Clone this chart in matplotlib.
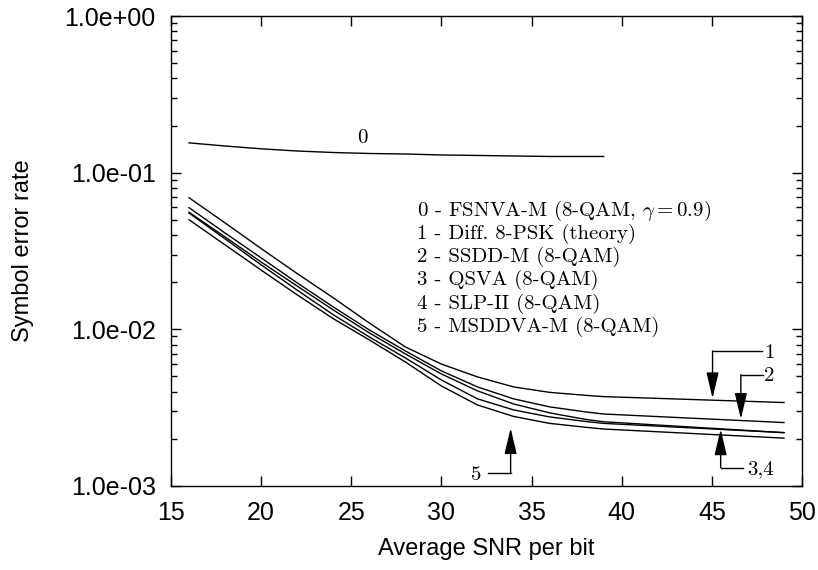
import numpy as np
import matplotlib
matplotlib.use("Agg")
import matplotlib.pyplot as plt
from matplotlib.ticker import FuncFormatter, LogLocator, NullFormatter, MultipleLocator

plt.rcParams['font.family'] = ['Liberation Sans', 'DejaVu Sans']
plt.rcParams['mathtext.fontset'] = 'cm'

# SNR grid (dB) for the curves
snr = [16, 18, 20, 22, 24, 26, 28, 30, 32, 34, 36, 38, 39, 49]
snr0 = [16, 18, 20, 22, 24, 26, 28, 30, 32, 34, 36, 38, 39]

# symbol error rates
ser0 = [0.155, 0.148, 0.142, 0.1375, 0.1345, 0.1326, 0.1316, 0.1297, 0.1288, 0.1278, 0.1269, 0.1269, 0.1269]
ser1 = [0.0692, 0.0478, 0.0328, 0.0227, 0.0159, 0.01098, 0.00772, 0.00600, 0.00497, 0.00429, 0.00396, 0.00379, 0.00372, 0.00341]
ser2 = [0.0598, 0.0412, 0.0286, 0.0198, 0.0139, 0.00991, 0.00728, 0.00543, 0.00429, 0.00360, 0.00320, 0.00297, 0.00288, 0.00254]
ser3 = [0.0559, 0.0389, 0.0269, 0.0189, 0.0133, 0.00949, 0.00697, 0.00519, 0.00405, 0.00334, 0.00293, 0.00266, 0.00257, 0.00219]
ser4 = [0.0553, 0.0378, 0.0258, 0.0178, 0.0124, 0.00894, 0.00657, 0.00475, 0.00360, 0.00306, 0.00276, 0.00258, 0.00251, 0.00219]
ser5 = [0.0501, 0.0346, 0.0239, 0.0166, 0.0117, 0.00856, 0.00619, 0.00435, 0.00329, 0.00278, 0.00251, 0.00237, 0.00231, 0.00202]

legend_lines = [
    r"0 - FSNVA-M (8-QAM, $\gamma = 0.9$)",
    "1 - Diff. 8-PSK (theory)",
    "2 - SSDD-M (8-QAM)",
    "3 - QSVA (8-QAM)",
    "4 - SLP-II (8-QAM)",
    "5 - MSDDVA-M (8-QAM)",
]

fig = plt.figure(figsize=(8.18, 5.70), dpi=100)
ax = fig.add_axes([0.209, 0.1474, 0.7714, 0.8245])

ax.plot(snr0, ser0, color='black', lw=1.0)
for s in (ser1, ser2, ser3, ser4, ser5):
    ax.plot(snr, s, color='black', lw=1.0)

ax.set_yscale('log')
ax.set_xlim(15, 50)
ax.set_ylim(1e-3, 1.0)
ax.xaxis.set_major_locator(MultipleLocator(5))
ax.yaxis.set_major_locator(LogLocator(base=10, numticks=10))
ax.yaxis.set_minor_locator(LogLocator(base=10, subs=np.arange(2, 10), numticks=20))
ax.yaxis.set_minor_formatter(NullFormatter())
ax.yaxis.set_major_formatter(FuncFormatter(lambda v, p: f"{v:.1e}"))

ax.tick_params(which='both', direction='in', top=True, right=True, width=1.0)
ax.tick_params(which='major', length=7, labelsize=18, pad=11)
ax.tick_params(which='minor', length=4)
for sp in ax.spines.values():
    sp.set_linewidth(1.0)

ax.set_xlabel("Average SNR per bit", fontsize=17, labelpad=9)
ax.set_ylabel("Symbol error rate", fontsize=17, labelpad=22)

serif = dict(family='cmr10', fontsize=15, color='black')

# legend block
for i, t in enumerate(legend_lines):
    ax.text(0.390, 0.5862 - i * 0.0496, t, transform=ax.transAxes, va='center', ha='left', **serif)

# curve label 0
ax.text(25.6, 0.167, "0", ha='center', va='center', **serif)

arrow = dict(arrowstyle='-|>,head_length=1.6,head_width=0.38', color='black', lw=1.0,
             shrinkA=0, shrinkB=0, mutation_scale=10)

# 1
ax.plot([45.04, 47.76], [7.28e-3, 7.28e-3], color='black', lw=1.0)
ax.annotate("", xy=(45.04, 3.63e-3), xytext=(45.04, 7.28e-3), arrowprops=arrow)
ax.text(48.2, 7.1e-3, "1", ha='center', va='center', **serif)
# 2
ax.plot([46.61, 47.83], [5.12e-3, 5.12e-3], color='black', lw=1.0)
ax.annotate("", xy=(46.61, 2.68e-3), xytext=(46.61, 5.12e-3), arrowprops=arrow)
ax.text(48.2, 5.0e-3, "2", ha='center', va='center', **serif)
# 3,4
ax.plot([45.49, 46.73], [1.31e-3, 1.31e-3], color='black', lw=1.0)
ax.annotate("", xy=(45.49, 2.30e-3), xytext=(45.49, 1.31e-3), arrowprops=arrow)
ax.text(47.67, 1.28e-3, "3,4", ha='center', va='center', **serif)
# 5
ax.plot([32.58, 33.84], [1.21e-3, 1.21e-3], color='black', lw=1.0)
ax.annotate("", xy=(33.84, 2.34e-3), xytext=(33.84, 1.21e-3), arrowprops=arrow)
ax.text(31.95, 1.18e-3, "5", ha='center', va='center', **serif)

fig.savefig("out.png", dpi=100)
